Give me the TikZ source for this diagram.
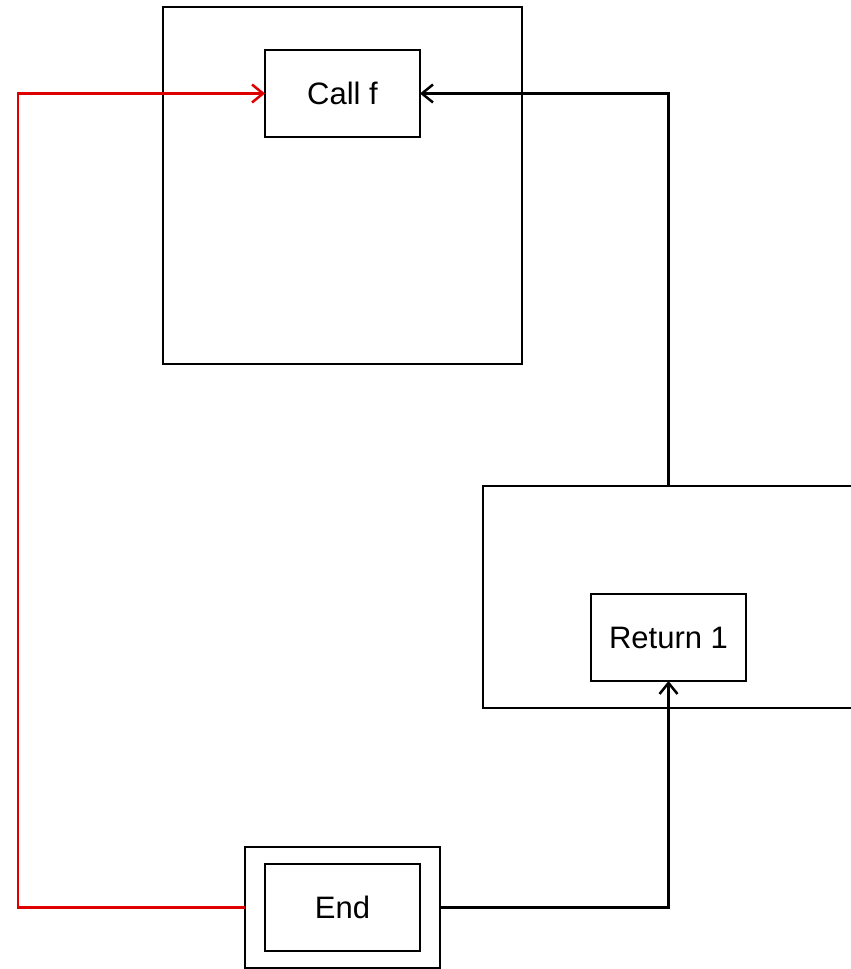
\documentclass[tikz,border=0pt]{standalone}
\usepackage{fontspec}
\setmainfont{Liberation Sans}
\usetikzlibrary{arrows.meta}
\definecolor{lnred}{RGB}{222,0,0}
\begin{document}
\begin{tikzpicture}[x={(1pt,0pt)},y={(0pt,-1pt)},
  box/.style={draw,line width=2.5pt,rectangle,inner sep=0pt,outer sep=0pt,font=\fontsize{31}{37}\selectfont},
  conn/.style={line width=2.5pt,-{Straight Barb[length=11pt,width=18pt,line width=2.5pt]}},
  plain/.style={line width=2.5pt}]
\clip (0,0) rectangle (851,969);
\useasboundingbox (0,0) rectangle (851,969);
\node[box,minimum width=359pt,minimum height=357pt] (topc) at (342.5,185.5) {};
\node[box,minimum width=155pt,minimum height=87pt] (callf) at (342.5,93.5) {Call f};
\node[box,minimum width=371pt,minimum height=222pt] (retc) at (668.5,597) {};
\node[box,minimum width=155pt,minimum height=87pt] (ret) at (668.5,637.5) {Return 1};
\node[box,minimum width=195pt,minimum height=121pt] (endo) at (342.5,907.5) {};
\node[box,minimum width=155pt,minimum height=87pt] (endi) at (342.5,907.5) {End};
\coordinate (lft) at (18,907.5);
\draw[conn,lnred] (endo.west) -- (lft) |- (callf.west);
\draw[conn] (retc.north) |- (callf.east);
\draw[conn] (endo.east) -| (ret.south);
\end{tikzpicture}
\end{document}
